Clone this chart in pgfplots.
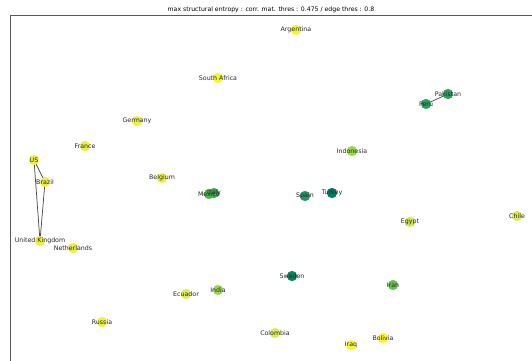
\documentclass[border=0pt]{standalone}
\usepackage{fontspec}
\setmainfont{DejaVu Sans}
\usepackage{pgfplots}
\usepackage{pgfplotstable}
\pgfplotsset{compat=1.18}

% node colours, light (yellow) to dark (teal)
\definecolor{cA}{RGB}{248,245,45}
\definecolor{cB}{RGB}{236,240,70}
\definecolor{cC}{RGB}{220,237,85}
\definecolor{cD}{RGB}{205,233,85}
\definecolor{cE}{RGB}{155,215,78}
\definecolor{cF}{RGB}{105,192,80}
\definecolor{cG}{RGB}{82,182,78}
\definecolor{cH}{RGB}{62,168,78}
\definecolor{cI}{RGB}{45,160,92}
\definecolor{cJ}{RGB}{38,150,100}
\definecolor{cK}{RGB}{12,130,92}
\definecolor{cL}{RGB}{4,122,100}

% country positions in the drawing layout
\pgfplotstableread[col sep=comma]{
name,x,y,cls
Argentina,296,30,cA
South Africa,218,78,cA
Germany,137,121,cB
France,85,146,cB
US,34,160,cB
Brazil,45,182,cB
Belgium,162,178,cB
Mexico,209,194,cG
Italy,214,193,cH
Spain,305,196,cJ
Turkey,332,193,cL
Indonesia,352,151,cE
Pakistan,448,94,cI
Peru,426,104,cI
Egypt,410,222,cD
Chile,517,216,cC
United Kingdom,40,241,cB
Netherlands,73,248,cB
Sweden,292,276,cK
Iran,393,285,cF
India,218,290,cE
Ecuador,186,294,cC
Russia,102,322,cB
Colombia,275,333,cC
Bolivia,383,338,cA
Iraq,351,345,cA
}\nodetable

\begin{document}
\begin{tikzpicture}
\begin{axis}[
  x=1bp, y=1bp, y dir=reverse,
  xmin=10, xmax=546, ymin=15, ymax=372,
  axis line style={black!65, line width=0.7pt},
  ticks=none,
  clip=false,
]
\coordinate (tl) at (axis cs:0,0);
\coordinate (br) at (axis cs:532,360);
\node[font=\fontsize{6.2}{7}\selectfont, anchor=base] at (axis cs:271,11.5)
  {max structural entropy : corr. mat. thres : 0.475 / edge thres : 0.8};

% edges
\addplot[black!70, line width=0.75pt] coordinates {(34,160) (45,182) (40,241) (34,160)};
\addplot[black!70, line width=0.75pt] coordinates {(448,94) (426,104)};

% nodes
\addplot[scatter, only marks, mark=*, mark size=4.9bp,
  scatter src=explicit symbolic,
  scatter/classes={
    cA={mark=*, cA},
    cB={mark=*, cB},
    cC={mark=*, cC},
    cD={mark=*, cD},
    cE={mark=*, cE},
    cF={mark=*, cF},
    cG={mark=*, cG},
    cH={mark=*, cH},
    cI={mark=*, cI},
    cJ={mark=*, cJ},
    cK={mark=*, cK},
    cL={mark=*, cL}},
] table[x=x, y=y, meta=cls] {\nodetable};

% labels
\addplot[draw=none, mark=none, point meta=explicit symbolic,
  nodes near coords,
  every node near coord/.style={anchor=center, inner sep=0pt,
    font=\fontsize{6.3}{7}\selectfont, text=black!85},
] table[x=x, y=y, meta=name] {\nodetable};
\end{axis}
\pgfresetboundingbox
\path[use as bounding box] (tl) rectangle (br);
\end{tikzpicture}
\end{document}
